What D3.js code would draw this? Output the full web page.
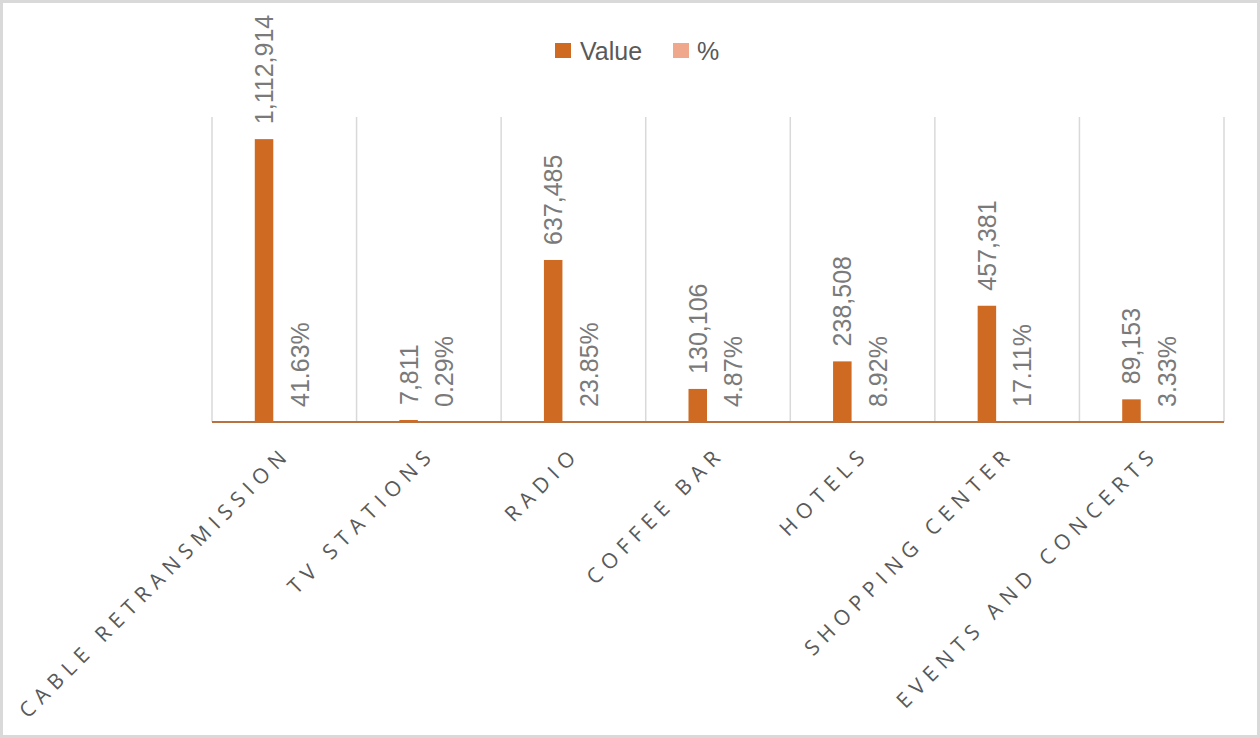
<!DOCTYPE html>
<html>
<head>
<meta charset="utf-8">
<script src="https://cdn.jsdelivr.net/npm/d3@7"></script>
<style>
  body { margin: 0; background: #fff; }
  svg text { font-family: "Liberation Sans", Arial, sans-serif; }
  svg text.cat { font-family: "Open Sans", sans-serif; }
</style>
</head>
<body>
<div id="chart"></div>
<script>
// chart data
const categories = ["CABLE RETRANSMISSION", "TV STATIONS", "RADIO", "COFFEE BAR", "HOTELS", "SHOPPING CENTER", "EVENTS AND CONCERTS"];
const values = [1112914, 7811, 637485, 130106, 238508, 457381, 89153];
const percents = [0.4163, 0.0029, 0.2385, 0.0487, 0.0892, 0.1711, 0.0333];
const seriesNames = ["Value", "%"];
const seriesColors = ["#cf6a23", "#f0a88c"];

const width = 1260, height = 738;
const margin = { top: 117, right: 36, bottom: 316, left: 212 };

const svg = d3.select("#chart").append("svg")
    .attr("width", width)
    .attr("height", height);

// outer border like the excel chart area
svg.append("rect")
    .attr("x", 1.5).attr("y", 1.5)
    .attr("width", width - 3).attr("height", height - 3)
    .attr("fill", "#fff")
    .attr("stroke", "#d9d9d9")
    .attr("stroke-width", 3);

const x = d3.scaleBand()
    .domain(categories)
    .range([margin.left, width - margin.right])
    .padding(0);

const y = d3.scaleLinear()
    .domain([0, 1200000])
    .range([height - margin.bottom, margin.top]);

// inner scale for the two series in a group
const x1 = d3.scaleBand()
    .domain(seriesNames)
    .range([-29.5, 29.5])
    .paddingInner(0.543);

// vertical gridlines between categories
const bounds = categories.map(c => x(c)).concat([x.range()[1]]);
svg.append("g")
    .selectAll("line")
    .data(bounds)
    .enter().append("line")
    .attr("x1", d => d).attr("x2", d => d)
    .attr("y1", y(1200000)).attr("y2", y(0))
    .attr("stroke", "#d9d9d9")
    .attr("stroke-width", 1.5);

const rows = categories.map((c, i) => ({ cat: c, value: values[i], pct: percents[i] }));

const group = svg.append("g")
    .selectAll("g")
    .data(rows)
    .enter().append("g")
    .attr("transform", d => `translate(${x(d.cat) + x.bandwidth() / 2},0)`);

// value bars
group.append("rect")
    .attr("x", x1("Value"))
    .attr("y", d => y(d.value))
    .attr("width", x1.bandwidth())
    .attr("height", d => y(0) - y(d.value))
    .attr("fill", seriesColors[0]);

// % bars (tiny on this axis)
group.append("rect")
    .attr("x", x1("%"))
    .attr("y", d => y(d.pct))
    .attr("width", x1.bandwidth())
    .attr("height", d => y(0) - y(d.pct))
    .attr("fill", seriesColors[1]);

const fmt = d3.format(",");
const fmtPct = d3.format(".2%");

// value labels
group.append("text")
    .attr("transform", d => `translate(${x1("Value") + x1.bandwidth() / 2},${y(d.value) - 15}) rotate(-90)`)
    .attr("dy", "0.36em")
    .attr("font-size", 25)
    .attr("fill", "#7a7a7a")
    .text(d => fmt(d.value));

// % labels
group.append("text")
    .attr("transform", d => `translate(${x1("%") + x1.bandwidth() / 2 - 5},${y(d.pct) - 15}) rotate(-90)`)
    .attr("dy", "0.36em")
    .attr("font-size", 25)
    .attr("fill", "#7a7a7a")
    .text(d => fmtPct(d.pct));

// baseline
svg.append("line")
    .attr("x1", x.range()[0]).attr("x2", x.range()[1])
    .attr("y1", y(0)).attr("y2", y(0))
    .attr("stroke", "#b8713f")
    .attr("stroke-width", 2);

// category labels, slanted
svg.append("g")
    .selectAll("text")
    .data(categories)
    .enter().append("text")
    .attr("class", "cat")
    .attr("transform", d => `translate(${x(d) + x.bandwidth() / 2 + 8},${y(0) + 33}) rotate(-45)`)
    .attr("text-anchor", "end")
    .attr("font-size", 21)
    .attr("letter-spacing", 6.5)
    .attr("fill", "#595959")
    .text(d => d);

// legend
const legend = svg.append("g")
    .selectAll("g")
    .data(seriesNames)
    .enter().append("g")
    .attr("transform", (d, i) => `translate(${555 + i * 118},43)`);

legend.append("rect")
    .attr("width", 16).attr("height", 15)
    .attr("fill", (d, i) => seriesColors[i]);

legend.append("text")
    .attr("x", (d, i) => i === 0 ? 25 : 24)
    .attr("y", 8)
    .attr("dy", "0.36em")
    .attr("font-size", 25)
    .attr("fill", "#595959")
    .text(d => d);
</script>
</body>
</html>
